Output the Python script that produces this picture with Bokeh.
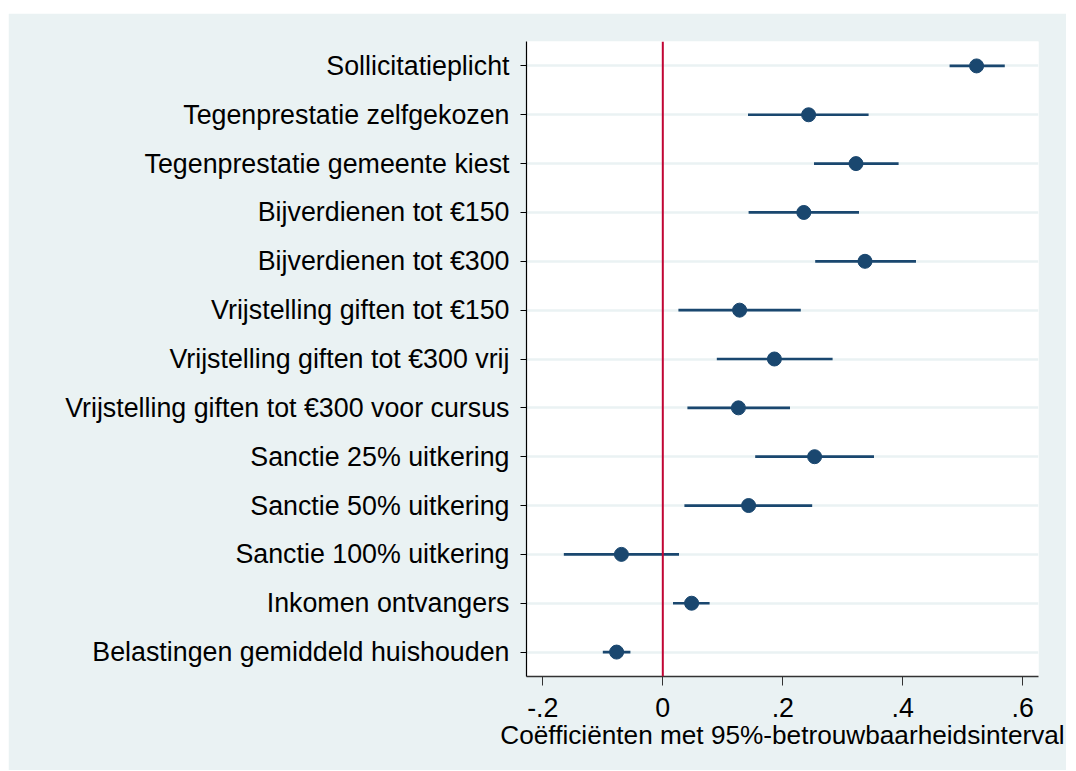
from bokeh.plotting import figure
from bokeh.models import FactorRange, Range1d, Span, FixedTicker, Spacer, ColumnDataSource
from bokeh.layouts import column, row
from bokeh.embed import file_html
from bokeh.resources import INLINE

categories = [
    "Sollicitatieplicht",
    "Tegenprestatie zelfgekozen",
    "Tegenprestatie gemeente kiest",
    "Bijverdienen tot €150",
    "Bijverdienen tot €300",
    "Vrijstelling giften tot €150",
    "Vrijstelling giften tot €300 vrij",
    "Vrijstelling giften tot €300 voor cursus",
    "Sanctie 25% uitkering",
    "Sanctie 50% uitkering",
    "Sanctie 100% uitkering",
    "Inkomen ontvangers",
    "Belastingen gemiddeld huishouden",
]
coef = [0.523, 0.243, 0.322, 0.235, 0.337, 0.128, 0.186, 0.126, 0.253, 0.143, -0.069, 0.048, -0.077]
ci_low = [0.478, 0.142, 0.252, 0.143, 0.254, 0.026, 0.090, 0.041, 0.154, 0.036, -0.165, 0.017, -0.100]
ci_high = [0.570, 0.343, 0.393, 0.327, 0.422, 0.230, 0.283, 0.212, 0.352, 0.249, 0.027, 0.078, -0.054]
x_ticks = [-0.2, 0.0, 0.2, 0.4, 0.6]
x_tick_labels = ["-.2", "0", ".2", ".4", ".6"]
x_title = "Coëfficiënten met 95%-betrouwbaarheidsinterval"

BG = "#EAF2F3"
NAVY = "#1A476F"
FONT = "Liberation Sans"
FS = "26.8px"

src = ColumnDataSource(dict(cat=categories, coef=coef, lo=ci_low, hi=ci_high))

W, H = 1058, 757
p = figure(
    width=W, height=H,
    y_range=FactorRange(factors=list(reversed(categories)), range_padding=0),
    x_range=Range1d(-0.2272, 0.6262),
    output_backend="svg", toolbar_location=None,
    min_border_left=518, min_border_right=28, min_border_top=28, min_border_bottom=94,
)
p.border_fill_color = BG
p.background_fill_color = "white"
p.outline_line_color = None

p.xgrid.grid_line_color = None
p.ygrid.grid_line_color = BG
p.ygrid.grid_line_width = 2.5

p.segment(x0="lo", x1="hi", y0="cat", y1="cat", source=src, line_color=NAVY, line_width=2.7)
p.scatter(x="coef", y="cat", source=src, size=14, fill_color=NAVY, line_color=NAVY)

p.add_layout(Span(location=0, dimension="height", line_color="#C10534", line_width=2))

# y axis
p.yaxis.axis_line_color = "black"
p.yaxis.axis_line_width = 1.2
p.yaxis.major_tick_line_color = "black"
p.yaxis.major_tick_out = 6
p.yaxis.major_tick_in = 0
p.yaxis.major_label_standoff = 11
p.yaxis.major_label_text_font = FONT
p.yaxis.major_label_text_font_size = FS
p.yaxis.major_label_text_color = "black"

# x axis
p.xaxis.ticker = FixedTicker(ticks=x_ticks)
p.xaxis.major_label_overrides = {t: l for t, l in zip(x_ticks, x_tick_labels)}
p.xaxis.minor_tick_line_color = None
p.xaxis.axis_line_color = "#333333"
p.xaxis.axis_line_width = 1.7
p.xaxis.major_tick_line_color = "#333333"
p.xaxis.major_tick_out = 9
p.xaxis.major_tick_in = 0
p.xaxis.major_label_standoff = 12
p.xaxis.major_label_text_font = FONT
p.xaxis.major_label_text_font_size = FS
p.xaxis.major_label_text_color = "black"
p.xaxis.axis_label = x_title
p.xaxis.axis_label_text_font = FONT
p.xaxis.axis_label_text_font_size = "26.2px"
p.xaxis.axis_label_text_font_style = "normal"
p.xaxis.axis_label_text_color = "black"
p.xaxis.axis_label_standoff = 0

layout = column(
    Spacer(width=W + 8, height=13),
    row(Spacer(width=8, height=H), p, spacing=0),
    spacing=0,
)
open("out.html", "w").write(file_html(layout, INLINE))
